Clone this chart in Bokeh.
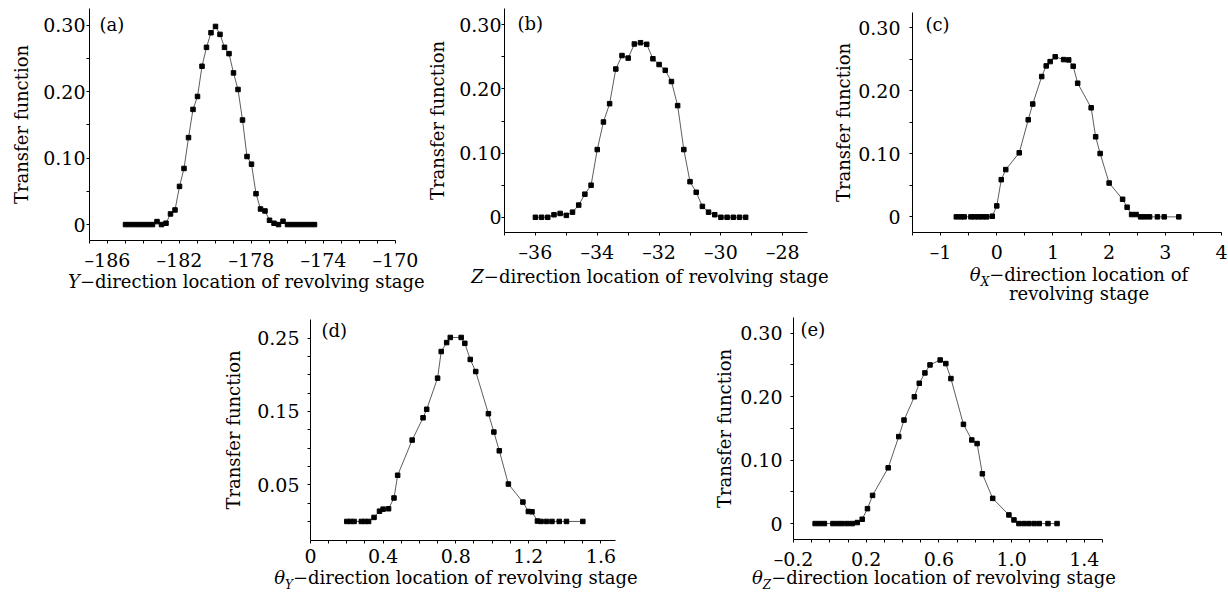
from bokeh.plotting import figure
from bokeh.models import Range1d, FixedTicker, CustomJSTickFormatter, Label, Spacer, Div
from bokeh.layouts import column, row
from bokeh.embed import file_html
from bokeh.resources import INLINE

FONT = "DejaVu Serif"

# ---------------- data ----------------
a_x = [-185.0, -184.75, -184.5, -184.25, -184.0, -183.75, -183.5, -183.25, -183.0, -182.75,
       -182.5, -182.25, -182.0, -181.75, -181.5, -181.25, -181.0, -180.75, -180.5, -180.25,
       -180.0, -179.75, -179.5, -179.25, -179.0, -178.75, -178.5, -178.25, -178.0, -177.75,
       -177.5, -177.25, -177.0, -176.75, -176.5, -176.25, -176.0, -175.75, -175.5, -175.25,
       -175.0, -174.75, -174.5]
a_y = [0, 0, 0, 0, 0, 0, 0, 0.0045, 0, 0.002,
       0.016, 0.022, 0.0575, 0.0845, 0.131, 0.1735, 0.193, 0.2385, 0.267, 0.289,
       0.2985, 0.2865, 0.267, 0.2575, 0.2285, 0.2035, 0.1575, 0.1025, 0.091, 0.0465,
       0.0235, 0.0205, 0.0065, 0.002, 0, 0.005, 0, 0, 0, 0,
       0, 0, 0]

b_x = [-36.0, -35.8, -35.6, -35.4, -35.2, -35.0, -34.8, -34.6, -34.4, -34.2,
       -34.0, -33.8, -33.6, -33.4, -33.2, -33.0, -32.8, -32.6, -32.4, -32.2,
       -32.0, -31.8, -31.6, -31.4, -31.2, -31.0, -30.8, -30.6, -30.4, -30.2,
       -30.0, -29.8, -29.6, -29.4, -29.2]
b_y = [0, 0, 0, 0.004, 0.006, 0.003, 0.008, 0.019, 0.036, 0.050,
       0.1055, 0.1485, 0.177, 0.231, 0.252, 0.248, 0.270, 0.272, 0.2695, 0.247,
       0.238, 0.229, 0.2115, 0.174, 0.1055, 0.0555, 0.039, 0.017, 0.008, 0.004,
       0, 0, 0, 0, 0]

c_x = [-0.72, -0.64, -0.58, -0.46, -0.39, -0.32, -0.25, -0.18, -0.08, 0.0,
       0.08, 0.16, 0.40, 0.56, 0.64, 0.80, 0.88, 0.95, 1.04, 1.19,
       1.28, 1.36, 1.44, 1.68, 1.76, 1.84, 2.0, 2.24, 2.32, 2.40,
       2.48, 2.56, 2.64, 2.72, 2.86, 2.98, 3.24]
c_y = [0, 0, 0, 0, 0, 0, 0, 0, 0.001, 0.0174,
       0.059, 0.075, 0.1016, 0.154, 0.179, 0.2226, 0.2395, 0.2463, 0.254, 0.2495,
       0.249, 0.239, 0.212, 0.173, 0.127, 0.1005, 0.0537, 0.0279, 0.0153, 0.0037,
       0.0037, 0, 0, 0, 0, 0, 0]

d_x = [0.20, 0.22, 0.24, 0.28, 0.30, 0.32, 0.35, 0.38, 0.40, 0.43,
       0.46, 0.48, 0.56, 0.62, 0.64, 0.70, 0.72, 0.75, 0.77, 0.83,
       0.85, 0.88, 0.91, 0.98, 1.01, 1.04, 1.09, 1.17, 1.20, 1.22,
       1.25, 1.27, 1.30, 1.33, 1.37, 1.41, 1.50]
d_y = [0, 0, 0, 0, 0, 0, 0.0055, 0.014, 0.0168, 0.0173,
       0.032, 0.063, 0.111, 0.1414, 0.153, 0.1955, 0.2318, 0.244, 0.251, 0.251,
       0.243, 0.221, 0.2045, 0.147, 0.122, 0.0964, 0.051, 0.0264, 0.0136, 0.0132,
       0.0005, 0, 0, 0, 0, 0, 0]

e_x = [-0.081, -0.056, -0.030, 0.017, 0.043, 0.068, 0.096, 0.123, 0.151, 0.178,
       0.207, 0.235, 0.321, 0.379, 0.408, 0.465, 0.492, 0.523, 0.551, 0.607,
       0.638, 0.666, 0.735, 0.781, 0.810, 0.839, 0.896, 0.985, 1.013, 1.04,
       1.068, 1.095, 1.124, 1.152, 1.20, 1.25]
e_y = [0, 0, 0, 0, 0, 0, 0, 0, 0.0016, 0.0068,
       0.0235, 0.0444, 0.0878, 0.137, 0.163, 0.1997, 0.221, 0.2373, 0.2499, 0.2577,
       0.252, 0.2284, 0.1563, 0.1317, 0.126, 0.0784, 0.0397, 0.0136, 0.0057, 0,
       0, 0, 0, 0, 0, 0]

# ---------------- ticks ----------------
a_xticks = [-186, -182, -178, -174, -170]
a_xminor = [-187, -185, -184, -183, -181, -180, -179, -177, -176, -175, -173, -172, -171]
b_xticks = [-36, -34, -32, -30, -28]
b_xminor = [-37, -35, -33, -31, -29]
c_xticks = [-1, 0, 1, 2, 3, 4]
c_xminor = [-1.5, -0.5, 0.5, 1.5, 2.5, 3.5]
d_xticks = [0, 0.4, 0.8, 1.2, 1.6]
d_xminor = [0.1, 0.2, 0.3, 0.5, 0.6, 0.7, 0.9, 1.0, 1.1, 1.3, 1.4, 1.5]
e_xticks = [-0.2, 0.2, 0.6, 1.0, 1.4]
e_xminor = [-0.1, 0.0, 0.1, 0.3, 0.4, 0.5, 0.7, 0.8, 0.9, 1.1, 1.2, 1.3, 1.5]
y_ticks = [0, 0.1, 0.2, 0.3]
y_minor = [0.05, 0.15, 0.25]
d_yticks = [0.05, 0.15, 0.25]
d_yminor = [0.0, 0.025, 0.075, 0.1, 0.125, 0.175, 0.2, 0.225]

y_label = "Transfer function"
tags = ["(a)", "(b)", "(c)", "(d)", "(e)"]
rest = "\u2212direction location of revolving stage"
SUB = "<sub style='font-size:12px;line-height:0;vertical-align:-5px'><i>%s</i></sub>"
title_a = "<i>Y</i>" + rest
title_b = "<i>Z</i>" + rest
title_c = "<i>\u03b8</i>" + (SUB % "X") + "\u2212direction location of<br>revolving stage"
title_d = "<i>\u03b8</i>" + (SUB % "Y") + rest
title_e = "<i>\u03b8</i>" + (SUB % "Z") + rest

BB = 32  # bottom border of every figure


def fmt(digits):
    return CustomJSTickFormatter(code=(
        "var a = Math.abs(tick);"
        "var s = a < 1e-9 ? '0' : a.toFixed(%d);"
        "return (tick < -1e-9 ? '\u2013' : '') + s;" % digits))


def panel(xs, ys, w, h, bl, br, xr, yr, xt, xm, yt, ym, xd, yd,
          ystd, ylstd, tag):
    p = figure(width=w, height=h, output_backend="svg", toolbar_location=None,
               x_range=Range1d(*xr), y_range=Range1d(*yr),
               min_border_left=bl, min_border_right=br,
               min_border_top=0, min_border_bottom=BB)
    p.outline_line_color = None
    p.grid.visible = False
    p.background_fill_color = "white"
    p.border_fill_color = "white"
    p.line(xs, ys, line_color="#333333", line_width=0.8)
    p.scatter(xs, ys, marker="square", size=4.5, fill_color="black", line_color="black")
    for ax in (p.xaxis[0], p.yaxis[0]):
        ax.axis_line_color = "black"
        ax.axis_line_width = 1
        ax.major_tick_in = 0
        ax.major_tick_out = 3
        ax.minor_tick_in = 0
        ax.minor_tick_out = 3
        ax.major_tick_line_color = "black"
        ax.minor_tick_line_color = "black"
        ax.major_label_text_font = FONT
        ax.major_label_text_font_size = "19px"
        ax.major_label_text_color = "black"
    p.xaxis[0].ticker = FixedTicker(ticks=xt, minor_ticks=xm)
    p.yaxis[0].ticker = FixedTicker(ticks=yt, minor_ticks=ym)
    p.xaxis[0].formatter = fmt(xd)
    p.yaxis[0].formatter = fmt(yd)
    p.xaxis[0].major_label_standoff = 5
    p.yaxis[0].major_label_standoff = ystd
    p.yaxis[0].axis_label = y_label
    p.yaxis[0].axis_label_text_font = FONT
    p.yaxis[0].axis_label_text_font_size = "18px"
    p.yaxis[0].axis_label_text_font_style = "normal"
    p.yaxis[0].axis_label_text_color = "black"
    p.yaxis[0].axis_label_standoff = ylstd
    p.add_layout(Label(x=tag[1], y=tag[2], x_units="screen", y_units="screen",
                       text=tag[0], text_font=FONT, text_font_size="18px",
                       text_align="left", text_baseline="middle", text_color="black"))
    return p


def title_div(html, w, h, left, box_w, top, lh):
    inner = ("<div style=\"margin-left:%dpx;width:%dpx;padding-top:%dpx;text-align:center;"
             "font-family:'DejaVu Serif';font-size:18px;line-height:%dpx;white-space:nowrap;"
             "color:black;\">%s</div>" % (left, box_w, top, lh, html))
    return Div(text=inner, width=w, height=h, margin=(0, 0, 0, 0),
               styles={"overflow": "visible"})


pa = panel(a_x, a_y, 416, 233 + BB, 74, 29, (-187, -170), (-0.024, 0.3255),
           a_xticks, a_xminor, y_ticks, y_minor, 0, 2, 1, 8, (tags[0], 10, 216))
pb = panel(b_x, b_y, 406, 225 + BB, 75, 23, (-37, -27.2), (-0.0237, 0.3253),
           b_xticks, b_xminor, y_ticks, y_minor, 0, 2, 0, 8, (tags[1], 13, 209))
pc = panel(c_x, c_y, 397, 221 + BB, 82, 6, (-1.5, 4.0), (-0.0248, 0.3242),
           c_xticks, c_xminor, y_ticks, y_minor, 0, 2, 9, 1, (tags[2], 13, 208))
pd = panel(d_x, d_y, 420, 221 + BB, 89, 25, (0, 1.68), (-0.026, 0.2755),
           d_xticks, d_xminor, d_yticks, d_yminor, 1, 2, 8, 10, (tags[3], 11, 210))
pe = panel(e_x, e_y, 420, 223 + BB, 83, 28, (-0.2, 1.5), (-0.0251, 0.3246),
           e_xticks, e_xminor, y_ticks, y_minor, 1, 2, 8, 2, (tags[4], 7, 210))

da = title_div(title_a, 416, 31, 60, 356, 0, 18)
db = title_div(title_b, 406, 39, 46, 360, 1, 22)
dc = title_div(title_c, 397, 39, 101, 296, 0, 19)
dd = title_div(title_d, 420, 15, 52, 368, 0, 12)
de = title_div(title_e, 420, 15, 28, 392, 0, 12)

col_a = column(pa, da, spacing=0)
col_b = column(pb, db, spacing=0)
col_c = column(Spacer(width=397, height=4), pc, dc, spacing=0)
col_d = column(Spacer(width=420, height=15), pd, dd, spacing=0)
col_e = column(Spacer(width=420, height=13), pe, de, spacing=0)

body = column(row(col_a, col_b, col_c, spacing=0),
              row(Spacer(width=212, height=283), col_d, Spacer(width=70, height=283), col_e, spacing=0),
              spacing=0)
layout = column(Spacer(width=1219, height=8),
                row(Spacer(width=8, height=579), body, spacing=0),
                spacing=0)

with open("out.html", "w", encoding="utf-8") as f:
    f.write(file_html(layout, INLINE))
